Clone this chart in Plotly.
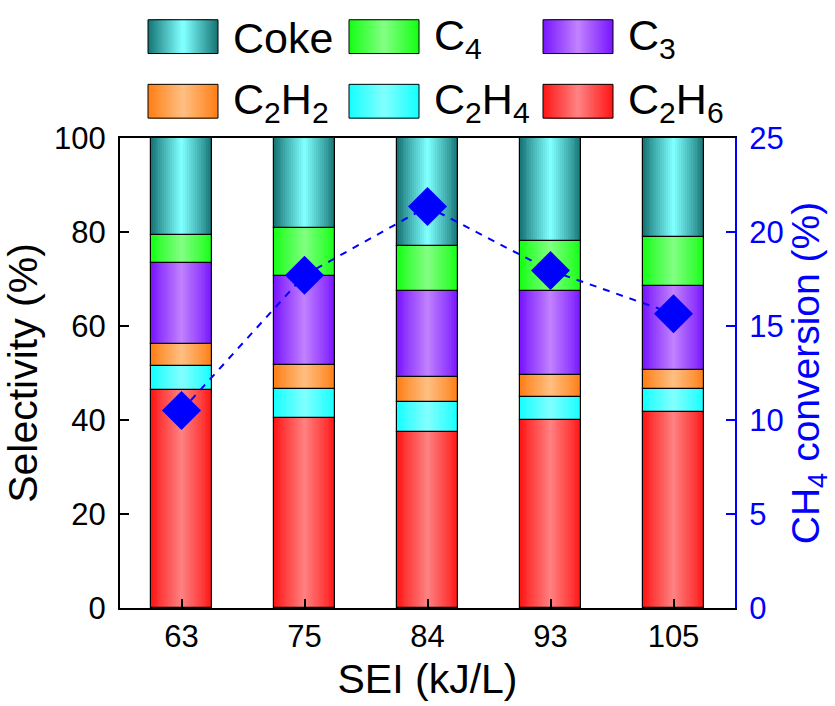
import plotly.graph_objects as go

# SEI levels (kJ/L)
sei = ["63", "75", "84", "93", "105"]

# Product selectivity (%), stacked bottom to top
c2h6 = [46.3, 40.4, 37.4, 40.1, 41.6]
c2h4 = [5.1, 6.3, 6.4, 4.7, 5.1]
c2h2 = [4.8, 5.1, 5.4, 4.8, 3.9]
c3 = [17.3, 18.9, 18.2, 17.9, 18.0]
c4 = [5.9, 10.1, 9.7, 10.6, 10.3]
coke = [20.6, 19.2, 22.9, 22.0, 21.1]

# CH4 conversion (%)
ch4_conv = [10.5, 17.7, 21.35, 17.95, 15.65]

# (name, values, edge colour, centre colour) from the bottom of the stack up
series = [
    ("C<sub>2</sub>H<sub>6</sub>", c2h6, (255, 24, 24), (255, 128, 128)),
    ("C<sub>2</sub>H<sub>4</sub>", c2h4, (24, 255, 255), (128, 255, 255)),
    ("C<sub>2</sub>H<sub>2</sub>", c2h2, (255, 128, 24), (255, 190, 128)),
    ("C<sub>3</sub>", c3, (122, 24, 255), (192, 128, 255)),
    ("C<sub>4</sub>", c4, (24, 255, 24), (128, 255, 128)),
    ("Coke", coke, (24, 120, 120), (128, 255, 255)),
]

BAR_W = 0.5
STEPS = 16
FONT = "Liberation Sans, Arial, sans-serif"


def mix(a, b, t):
    return "rgb(%d,%d,%d)" % tuple(round(a[i] + (b[i] - a[i]) * t) for i in range(3))


fig = go.Figure()

base = [0.0] * len(sei)
for name, vals, edge, centre in series:
    # horizontal gradient: nested bars, narrower and lighter toward the centre
    for k in range(STEPS):
        t = k / (STEPS - 1)
        fig.add_trace(go.Bar(
            x=sei, y=vals, base=base, width=BAR_W * (1 - k / STEPS),
            marker=dict(color=mix(edge, centre, t), line=dict(width=0)),
            showlegend=False, hoverinfo="skip",
        ))
    # segment outline
    fig.add_trace(go.Bar(
        x=sei, y=vals, base=base, width=BAR_W, name=name,
        marker=dict(color="rgba(0,0,0,0)", line=dict(color="black", width=1.2)),
        showlegend=False,
    ))
    base = [b + v for b, v in zip(base, vals)]

fig.add_trace(go.Scatter(
    x=sei, y=ch4_conv, yaxis="y2", mode="lines+markers",
    line=dict(color="#0000ff", width=2, dash="7px,7px"),
    marker=dict(symbol="diamond", size=30, color="#0000ff"),
    showlegend=False,
))

# Legend drawn as gradient swatches with text labels (paper coordinates)
X0, X1, Y0, Y1 = 120, 735, 611, 138


def px(x):
    return (x - X0) / (X1 - X0)


def py(y):
    return (Y0 - y) / (Y0 - Y1)


legend_order = ["Coke", "C<sub>4</sub>", "C<sub>3</sub>",
                "C<sub>2</sub>H<sub>2</sub>", "C<sub>2</sub>H<sub>4</sub>", "C<sub>2</sub>H<sub>6</sub>"]
lookup = {s[0]: s for s in series}
cols = [148, 349, 543]
rows = [(19, 53), (84, 118)]
sw = 70
shapes = []
annotations = []
for i, nm in enumerate(legend_order):
    _, _, edge, centre = lookup[nm]
    r, c = divmod(i, 3)
    x0 = cols[c]
    y0, y1 = rows[r]
    half = sw / 2
    n = 16
    for k in range(n):
        t = k / (n - 1)
        inset = half * k / n
        shapes.append(dict(
            type="rect", xref="paper", yref="paper",
            x0=px(x0 + inset), x1=px(x0 + sw - inset), y0=py(y1), y1=py(y0),
            fillcolor=mix(edge, centre, t), line=dict(width=0), layer="above",
        ))
    shapes.append(dict(
        type="rect", xref="paper", yref="paper",
        x0=px(x0), x1=px(x0 + sw), y0=py(y1), y1=py(y0),
        fillcolor="rgba(0,0,0,0)", line=dict(color="black", width=1), layer="above",
    ))
    annotations.append(dict(
        text=nm, xref="paper", yref="paper", x=px(x0 + sw + 13), y=py((y0 + y1) / 2 + 1),
        xanchor="left", yanchor="middle", showarrow=False,
        font=dict(family=FONT, size=43, color="black"),
    ))

fig.update_layout(
    width=835, height=706,
    margin=dict(l=120, r=100, t=138, b=95),
    barmode="overlay", bargap=0,
    plot_bgcolor="white", paper_bgcolor="white",
    font=dict(family=FONT, color="black"),
    shapes=shapes, annotations=annotations,
    showlegend=False,
    xaxis=dict(
        type="category", range=[-0.5, 4.5],
        showline=True, linecolor="black", linewidth=2, mirror=True,
        ticks="inside", ticklen=9, tickwidth=2, tickcolor="black",
        tickfont=dict(size=31), showgrid=False, zeroline=False,
        title=dict(text="SEI (kJ/L)", font=dict(size=41), standoff=11),
    ),
    yaxis=dict(
        range=[0, 100], dtick=20,
        showline=True, linecolor="black", linewidth=2,
        ticks="inside", ticklen=9, tickwidth=2, tickcolor="black",
        tickfont=dict(size=31), showgrid=False, zeroline=False,
        ticklabelstandoff=6,
        title=dict(text="Selectivity (%)", font=dict(size=41), standoff=9),
    ),
    yaxis2=dict(
        range=[0, 25], dtick=5, overlaying="y", side="right",
        showline=True, linecolor="#0000ff", linewidth=2,
        ticks="inside", ticklen=9, tickwidth=2, tickcolor="#0000ff",
        tickfont=dict(size=31, color="#0000ff"), showgrid=False, zeroline=False,
        ticklabelstandoff=6,
        title=dict(text="CH<sub>4</sub> conversion (%)",
                   font=dict(size=39, color="#0000ff"), standoff=8),
    ),
)

fig.write_html("out.html")
